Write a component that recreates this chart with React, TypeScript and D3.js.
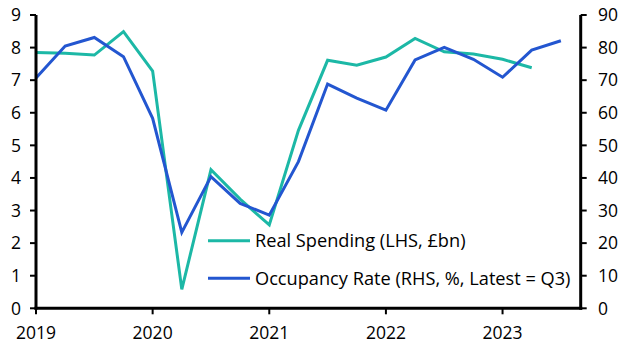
import React from "react";
import * as d3 from "d3";

const quarters = [
  "2019Q1","2019Q2","2019Q3","2019Q4",
  "2020Q1","2020Q2","2020Q3","2020Q4",
  "2021Q1","2021Q2","2021Q3","2021Q4",
  "2022Q1","2022Q2","2022Q3","2022Q4",
  "2023Q1","2023Q2","2023Q3",
];
const realSpending = [7.85,7.83,7.77,8.49,7.28,0.58,4.25,3.35,2.56,5.46,7.61,7.46,7.71,8.28,7.87,7.80,7.64,7.38];
const occupancy = [70.7,80.5,83.1,77.2,58.3,23.3,40.4,32.2,28.6,45.0,68.8,64.5,60.8,76.2,80.1,76.4,70.9,79.2,82.1];
const leftTicks = [0,1,2,3,4,5,6,7,8,9];
const rightTicks = [0,10,20,30,40,50,60,70,80,90];
const yearTicks = [2019,2020,2021,2022,2023];
const legendLabels = ["Real Spending (LHS, £bn)", "Occupancy Rate (RHS, %, Latest = Q3)"];

const GREEN = "#1cb8a6";
const BLUE = "#2356d0";
const FONT = "'Open Sans', sans-serif";

const toT = (q: string) => +q.slice(0, 4) + (+q.slice(5) - 1) / 4;

export default function App() {
  const W = 630, H = 355;
  const L = 36, R = 580.7, T = 15, B = 308.3;
  const x = d3.scaleLinear().domain([2019, 2023.67]).range([L, R]);
  const yL = d3.scaleLinear().domain([0, 9]).range([B, T]);
  const yR = d3.scaleLinear().domain([0, 90]).range([B, T]);

  const lineL = d3.line<number>().x((_, i) => x(toT(quarters[i]))).y((d) => yL(d));
  const lineR = d3.line<number>().x((_, i) => x(toT(quarters[i]))).y((d) => yR(d));

  const legendY = [240.7, 278.3];
  const legendColors = [GREEN, BLUE];
  const FS = 17.5;
  const LFS = 18.2;

  return (
    <svg width={W} height={H} style={{ position: "absolute", left: 0, top: 0, background: "#fff" }} fontFamily={FONT}>
      <path d={lineL(realSpending) || ""} fill="none" stroke={GREEN} strokeWidth={3} strokeLinejoin="miter" />
      <path d={lineR(occupancy) || ""} fill="none" stroke={BLUE} strokeWidth={3} strokeLinejoin="miter" />

      {/* left axis */}
      <line x1={L} x2={L} y1={T} y2={B + 1.5} stroke="#000" strokeWidth={3} />
      {leftTicks.map((t) => (
        <g key={"l" + t}>
          <line x1={L - 6} x2={L} y1={yL(t)} y2={yL(t)} stroke="#000" strokeWidth={2} />
          <text x={21} y={yL(t)} dy="0.36em" textAnchor="end" fontSize={FS} fill="#000">{t}</text>
        </g>
      ))}
      {/* right axis */}
      <line x1={R} x2={R} y1={T} y2={B + 1.5} stroke="#000" strokeWidth={3} />
      {rightTicks.map((t) => (
        <g key={"r" + t}>
          <line x1={R} x2={R + 6} y1={yR(t)} y2={yR(t)} stroke="#000" strokeWidth={2} />
          <text x={598} y={yR(t)} dy="0.36em" textAnchor="start" fontSize={FS} fill="#000">{t}</text>
        </g>
      ))}
      {/* bottom axis */}
      <line x1={L - 1.5} x2={R + 1.5} y1={B} y2={B} stroke="#000" strokeWidth={3} />
      {yearTicks.map((t) => (
        <g key={"x" + t}>
          <line x1={x(t)} x2={x(t)} y1={B} y2={B + 6} stroke="#000" strokeWidth={2} />
          <text x={x(t)} y={B + 31} textAnchor="middle" fontSize={FS} fill="#000">{t}</text>
        </g>
      ))}

      {/* legend */}
      {legendLabels.map((lab, i) => (
        <g key={lab}>
          <line x1={208} x2={250} y1={legendY[i]} y2={legendY[i]} stroke={legendColors[i]} strokeWidth={3} />
          <text x={255} y={legendY[i]} dy="0.36em" fontSize={LFS} fill="#000">{lab}</text>
        </g>
      ))}
    </svg>
  );
}
